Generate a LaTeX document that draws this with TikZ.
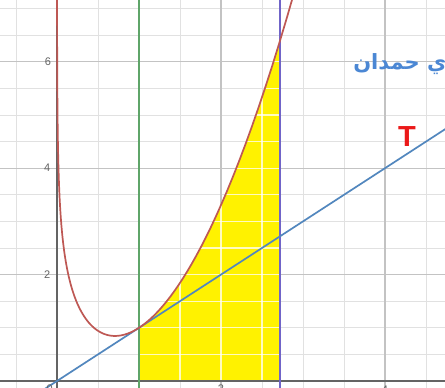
\documentclass[tikz,border=0pt]{standalone}
\usepackage{fontspec}
\TeXXeTstate=1
\newfontfamily\arabicfont[Script=Arabic]{DejaVu Sans}
\newfontfamily\labelfont{Liberation Sans}
\definecolor{curvered}{RGB}{190,88,84}
\definecolor{vgreen}{RGB}{95,165,105}
\definecolor{vpurple}{RGB}{112,100,200}
\definecolor{tanblue}{RGB}{82,135,190}
\definecolor{namecol}{RGB}{75,135,212}
\definecolor{tred}{RGB}{235,25,25}
\definecolor{minorg}{RGB}{225,225,225}
\definecolor{majorg}{RGB}{195,195,195}
\definecolor{axisg}{RGB}{100,100,100}
\tikzset{
  minorline/.style={draw=minorg, line width=0.9pt},
  majorline/.style={draw=majorg, line width=1.2pt},
  axisline/.style={draw=axisg, line width=1.5pt},
  gridwhite/.style={draw=white, opacity=0.75, line width=1.1pt},
  ticklabel/.style={font=\labelfont\fontsize{11}{11}\selectfont, text=axisg, inner sep=0pt},
  vertline/.style={line width=2.2pt},
}
\begin{document}
\begin{tikzpicture}[x=82pt,y=53.2pt]
\useasboundingbox (-0.6951,-0.1316) rectangle (4.7317,7.1617);
\clip (-0.6951,-0.1316) rectangle (4.7317,7.1617);
\fill[white] (-0.6951,-0.1316) rectangle (4.7317,7.1617);
% minor grid
\foreach \i in {-2,...,10} { \draw[minorline] (\i*0.5,-1) -- (\i*0.5,8); }
\foreach \j in {-2,...,16} { \draw[minorline] (-1,\j*0.5) -- (5,\j*0.5); }
% major grid
\foreach \i in {2,4} { \draw[majorline] (\i,-1) -- (\i,8); }
\foreach \j in {2,4,6} { \draw[majorline] (-1,\j) -- (5,\j); }
% shaded area
\fill[yellow] (1,0) -- plot[domain=1:2.71828,samples=80] (\x,{\x*\x-ln(\x)}) -- (2.71828,0) -- cycle;
\begin{scope}
  \clip (1,0) -- plot[domain=1:2.71828,samples=80] (\x,{\x*\x-ln(\x)}) -- (2.71828,0) -- cycle;
  \foreach \i in {2,...,6} { \draw[gridwhite] (\i*0.5,-1) -- (\i*0.5,8); }
  \foreach \j in {1,...,14} { \draw[gridwhite] (0,\j*0.5) -- (3,\j*0.5); }
\end{scope}
% axes
\draw[axisline] (-1,0) -- (5,0);
\draw[axisline] (0,-1) -- (0,8);
% vertical lines x=1 and x=e
\draw[vertline, draw=vgreen] (1,-1) -- (1,8);
\draw[vertline, draw=vpurple] (2.71828,-1) -- (2.71828,8);
% tangent T
\draw[line width=1.7pt, draw=tanblue] (-0.5,-0.5) -- (5,5);
% curve f(x)=x^2-ln x
\draw[line width=1.7pt, draw=curvered] plot[domain=-7.3:1.07, samples=250, variable=\t] ({exp(\t)},{exp(2*\t)-\t});
% tick labels
\node[ticklabel, anchor=east] (l6) at (-0.07,6) {6};
\node[ticklabel, anchor=east] (l4) at (-0.08,4) {4};
\node[ticklabel, anchor=east] (l2) at (-0.08,2) {2};
\node[ticklabel, anchor=north east] (l0) at (-0.05,-0.07) {0};
\node[ticklabel, anchor=north] (lx2) at (2,-0.07) {2};
\node[ticklabel, anchor=north] (lx4) at (4,-0.08) {4};
% labels
\node[text=tred, font=\labelfont\bfseries\fontsize{29}{29}\selectfont, inner sep=0pt] (T) at (4.268,4.59) {T};
\node[text=namecol, font=\arabicfont\bfseries\fontsize{21}{21}\selectfont, inner sep=0pt, anchor=east] (name) at (4.75,5.95) {\beginR ي حمدان\endR};
\end{tikzpicture}
\end{document}
